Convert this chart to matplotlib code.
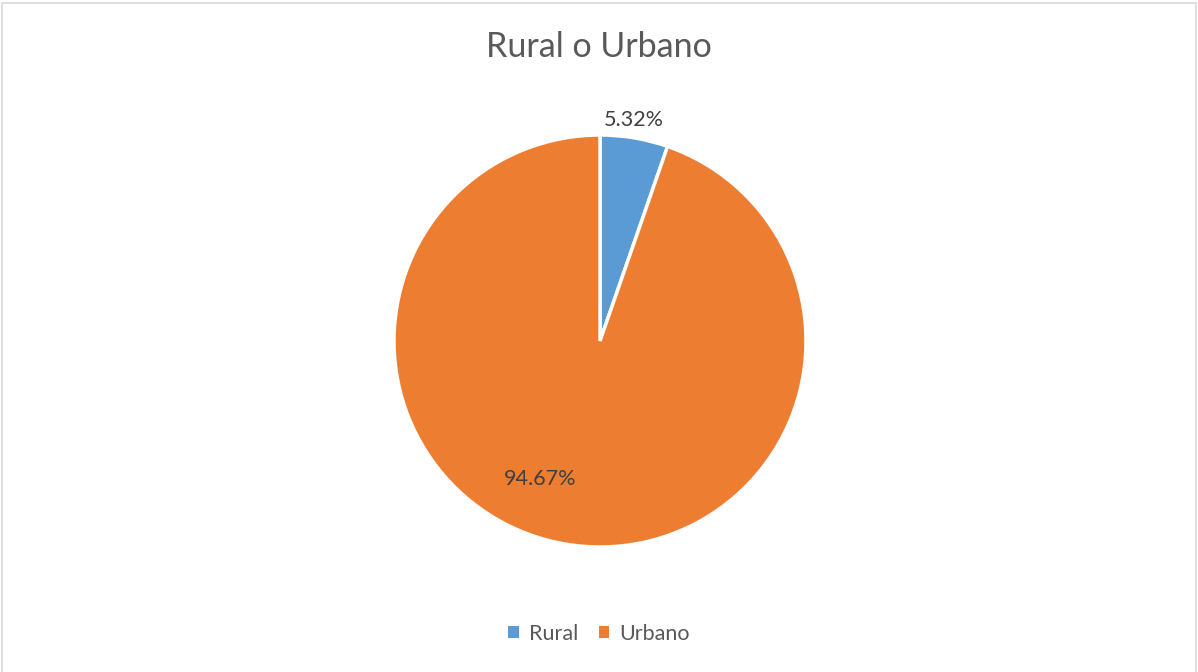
import matplotlib.pyplot as plt
from matplotlib.patches import Rectangle

plt.rcParams['font.family'] = ['Lato', 'DejaVu Sans']

categories = ["Rural", "Urbano"]
shares = [5.32, 94.67]
colors = ["#5B9BD5", "#ED7D31"]

W, H = 1198, 672
fig = plt.figure(figsize=(W / 100, H / 100), dpi=100)
fig.patch.set_facecolor("white")

# outer chart frame (bottom edge runs off the image)
fig.patches.append(Rectangle((0.0015, -0.01), 0.9965, 1.006, transform=fig.transFigure,
                             fill=False, edgecolor="#d9d9d9", lw=1.2))

cx, cy, r = 600, 341, 206
ax = fig.add_axes([(cx - r) / W, (H - cy - r) / H, 2 * r / W, 2 * r / H])
ax.set_aspect("equal")

wedges, _ = ax.pie(
    shares, colors=colors, startangle=90, counterclock=False, radius=1,
    wedgeprops=dict(edgecolor="white", linewidth=2.5),
)
# value labels: small slice just outside the rim, big slice inside lower left
label_pos = [(0.165, 1.075), (-0.29, -0.67)]
for v, (x, y) in zip(shares, label_pos):
    ax.text(x, y, f"{v:.2f}%", ha="center", va="center", color="#404040", fontsize=15.5)
ax.set_xlim(-1, 1)
ax.set_ylim(-1, 1)

fig.text(0.5, 1 - 47 / H, "Rural o Urbano", ha="center", va="center",
         fontsize=24.5, color="#595959")

handles = [Rectangle((0, 0), 1, 1, facecolor=c) for c in colors]
fig.legend(handles, categories, loc="center", bbox_to_anchor=(0.5, 1 - 634 / H),
           ncol=2, frameon=False, fontsize=15.5, labelcolor="#595959",
           handlelength=0.5, handleheight=0.5, handletextpad=0.45, columnspacing=0.95)

fig.savefig("out.png", dpi=100)
